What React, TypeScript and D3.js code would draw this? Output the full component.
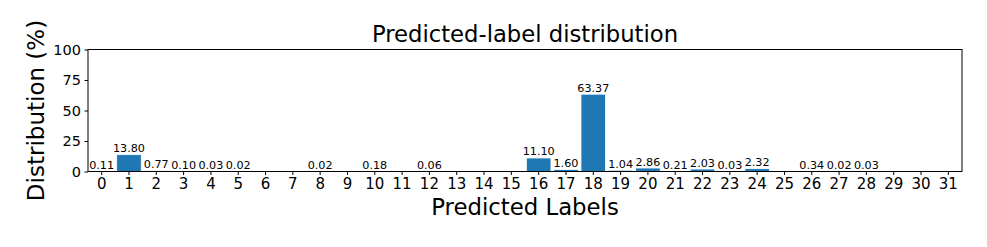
import * as React from "react";
import * as d3 from "d3";

const labels = d3.range(0, 32).map(String);
const values = [
  0.11, 13.8, 0.77, 0.1, 0.03, 0.02, 0, 0, 0.02, 0, 0.18, 0, 0.06, 0, 0, 0,
  11.1, 1.6, 63.37, 1.04, 2.86, 0.21, 2.03, 0.03, 2.32, 0, 0.34, 0.02, 0.03, 0, 0, 0,
];
const yTicks = [0, 25, 50, 75, 100];

const W = 987;
const H = 247;
const margin = { left: 88, right: 25, top: 49.5, bottom: 75.5 };
const font = "DejaVu Sans, sans-serif";

export default function App() {
  const ref = React.useRef<SVGSVGElement>(null);

  React.useEffect(() => {
    const svg = d3.select(ref.current);
    svg.selectAll("*").remove();

    const x0 = margin.left;
    const x1 = W - margin.right;
    const y0 = H - margin.bottom;
    const y1 = margin.top;

    const x = d3.scaleBand<string>()
      .domain(labels)
      .range([x0, x1])
      .paddingInner(0.1)
      .paddingOuter(0.05);
    const y = d3.scaleLinear().domain([0, 100]).range([y0, y1]);

    const data = labels.map((l, i) => ({ label: l, value: values[i] }));

    // bars
    svg.append("g")
      .selectAll("rect")
      .data(data)
      .join("rect")
      .attr("x", d => x(d.label)!)
      .attr("width", x.bandwidth())
      .attr("y", d => y(d.value))
      .attr("height", d => y0 - y(d.value))
      .attr("fill", "#1f77b4")
      .attr("stroke", "white")
      .attr("stroke-width", 0.8);

    // value labels (non-zero only)
    svg.append("g")
      .selectAll("text")
      .data(data.filter(d => d.value > 0))
      .join("text")
      .attr("x", d => x(d.label)! + x.bandwidth() / 2)
      .attr("y", d => y(d.value) - 2.5)
      .attr("text-anchor", "middle")
      .attr("font-family", font)
      .attr("font-size", 11.2)
      .attr("fill", "black")
      .text(d => d.value.toFixed(2));

    // frame
    svg.append("rect")
      .attr("x", x0)
      .attr("y", y1)
      .attr("width", x1 - x0)
      .attr("height", y0 - y1)
      .attr("fill", "none")
      .attr("stroke", "black")
      .attr("stroke-width", 1);

    // x axis
    const xAxis = svg.append("g")
      .attr("transform", `translate(0,${y0})`)
      .call(d3.axisBottom(x).tickSize(3.5).tickPadding(3.5));
    xAxis.select(".domain").remove();
    xAxis.selectAll("text").attr("font-family", font).attr("font-size", 15).attr("fill", "black");

    // y axis
    const yAxis = svg.append("g")
      .attr("transform", `translate(${x0},0)`)
      .call(d3.axisLeft(y).tickValues(yTicks).tickSize(3.5).tickPadding(3.5));
    yAxis.select(".domain").remove();
    yAxis.selectAll("text").attr("font-family", font).attr("font-size", 14.5).attr("fill", "black");

    // title
    svg.append("text")
      .attr("x", (x0 + x1) / 2)
      .attr("y", 42)
      .attr("text-anchor", "middle")
      .attr("font-family", font)
      .attr("font-size", 22.7)
      .text("Predicted-label distribution");

    // x label
    svg.append("text")
      .attr("x", (x0 + x1) / 2)
      .attr("y", 215)
      .attr("text-anchor", "middle")
      .attr("font-family", font)
      .attr("font-size", 22.8)
      .text("Predicted Labels");

    // y label
    svg.append("text")
      .attr("transform", `translate(44,${(y0 + y1) / 2}) rotate(-90)`)
      .attr("text-anchor", "middle")
      .attr("font-family", font)
      .attr("font-size", 23)
      .text("Distribution (%)");
  }, []);

  return (
    <svg
      ref={ref}
      width={W}
      height={H}
      style={{ position: "absolute", left: 0, top: 0, background: "white" }}
    />
  );
}
